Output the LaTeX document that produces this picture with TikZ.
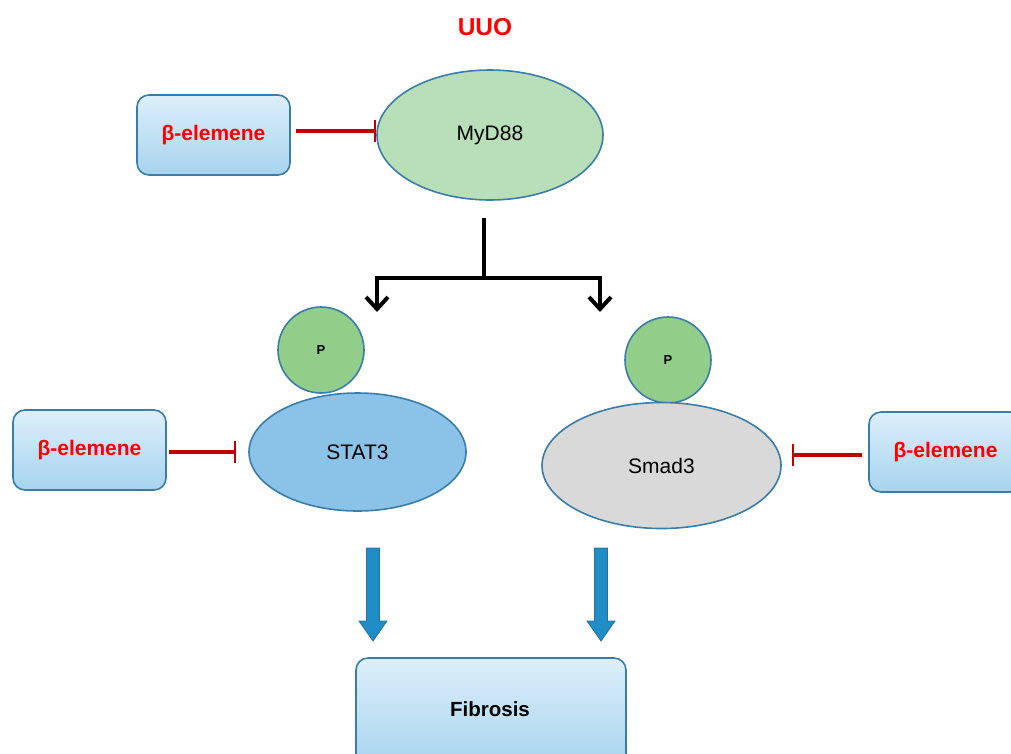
\documentclass[tikz,border=0pt]{standalone}
\usepackage{fontspec}
\setmainfont{Liberation Sans}
\usetikzlibrary{arrows.meta,shapes.geometric,calc}
\definecolor{edgeblue}{HTML}{3A7DAA}
\definecolor{boxtop}{HTML}{DDEFFA}
\definecolor{boxbot}{HTML}{A7D3EE}
\definecolor{mygreen}{HTML}{B9DFB9}
\definecolor{pgreen}{HTML}{92CE8A}
\definecolor{statblue}{HTML}{8BC3E8}
\definecolor{smadgray}{HTML}{D9D9D9}
\definecolor{inhred}{HTML}{C00000}
\definecolor{txtred}{HTML}{FF0000}
\definecolor{arrblue}{HTML}{1F8DC6}
\definecolor{arredge}{HTML}{2A6F9E}
\tikzset{
  drugbox/.style={draw=edgeblue, line width=1.6pt, rounded corners=12pt,
    top color=boxtop, bottom color=boxbot, minimum width=153pt, minimum height=80pt,
    font=\fontsize{21}{24}\selectfont\bfseries, text=txtred, inner sep=0pt},
  oval/.style={ellipse, draw=edgeblue, line width=1.6pt, inner sep=0pt,
    font=\fontsize{21}{24}\selectfont},
  pcirc/.style={circle, draw=edgeblue, line width=1.6pt, fill=pgreen,
    minimum size=86pt, inner sep=0pt, font=\fontsize{13}{15}\selectfont\bfseries},
  inhibit/.style={draw=inhred, line width=3.6pt, -{Bar[width=22pt,line width=2pt]}},
  blackarr/.style={draw=black, line width=4.5pt, -{Straight Barb[length=12pt,width=22pt,line width=4pt]}},
  bigarr/.style={fill=arrblue, draw=arredge, line width=0.8pt}
}
\begin{document}
\begin{tikzpicture}[x=1pt,y=-1pt]
\useasboundingbox (0,0) rectangle (1011,753);
\node[font=\fontsize{24.5}{28}\selectfont\bfseries, text=txtred] (uuo) at (485,27) {UUO};
\node[oval, fill=mygreen, minimum width=226pt, minimum height=130pt] (myd) at (490,135) {MyD88};
\node[drugbox] (b1) at (213.5,135) {β-elemene};
\node[drugbox] (b2) at (89.5,450) {β-elemene};
\node[drugbox] (b3) at (945.5,452) {β-elemene};
\node[pcirc] (p1) at (321,350) {P};
\node[pcirc] (p2) at (668,360) {P};
\node[oval, fill=statblue, minimum width=217pt, minimum height=118pt] (stat) at (357.5,452) {STAT3};
\node[oval, fill=smadgray, minimum width=239pt, minimum height=126pt] (smad) at (661.5,465.5) {Smad3};
\node[drugbox, text=black, minimum width=270pt, minimum height=110pt] (fib) at (491,713) {};
\node[font=\fontsize{20.5}{24}\selectfont\bfseries] (fibt) at (490,709) {Fibrosis};
% inhibitions
\draw[inhibit] (b1.east) ++(5,-4) coordinate (i1s) -- (myd.west |- i1s);
\draw[inhibit] (b2.east) ++(2,2) coordinate (i2s) -- ($(stat.west |- i2s)+(-12,0)$);
\draw[inhibit] (b3.west) ++(-6,3) coordinate (i3s) -- ($(smad.east |- i3s)+(10,0)$);
% branch
\coordinate (j) at (484,278);
\coordinate (l) at (377,278);
\coordinate (r) at (600,278);
\draw[line width=4.5pt] (myd.south -| j) ++(0,17) -- (j);
\draw[blackarr, line cap=butt] (j) -- (l) -- ++(0,34);
\draw[blackarr] (j) -- (r) -- ++(0,34);
% blue arrows
\foreach \xx/\nm in {373/a1,601/a2}{
  \draw[bigarr] (\xx-6.5,548) -- (\xx+6.5,548) -- (\xx+6.5,621) -- (\xx+14,621) -- (\xx,641) -- (\xx-14,621) -- (\xx-6.5,621) -- cycle;
}
\end{tikzpicture}
\end{document}
